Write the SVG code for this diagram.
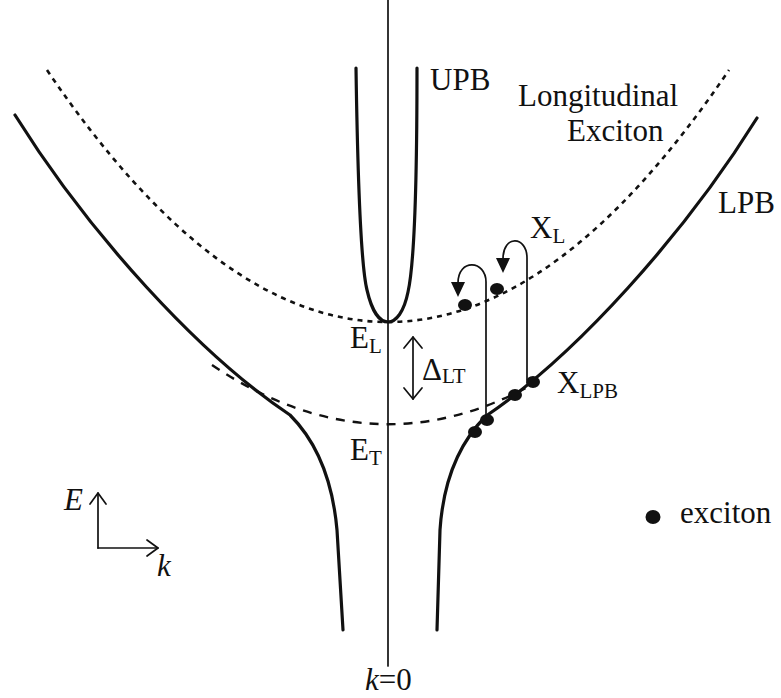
<svg xmlns="http://www.w3.org/2000/svg" width="781" height="698" viewBox="0 0 781 698">
<style>
text{font-family:"Liberation Serif","Times New Roman",serif;fill:#111;font-size:31px}
.sub{font-size:21px}
.it{font-style:italic}
.solid{fill:none;stroke:#111;stroke-width:3.2;stroke-linecap:round;stroke-linejoin:round}
.dash{fill:none;stroke:#111;stroke-width:2.6;stroke-dasharray:5 5}
.dash2{fill:none;stroke:#111;stroke-width:2.4;stroke-dasharray:9 8}
.thin{fill:none;stroke:#111;stroke-width:1.7;stroke-linecap:round;stroke-linejoin:round}
.dot{fill:#111}
.head{fill:#111;stroke:none}
</style>
<rect width="781" height="698" fill="#fff"/>

<g id="axis">
  <line class="thin" x1="388" y1="0" x2="388" y2="666" stroke-width="1.5"/>
</g>

<g id="longitudinal-exciton">
  <path class="dash" d="M47,70 Q388,574 729,70"/>
</g>

<g id="transverse-exciton">
  <path class="dash2" d="M212,365 Q373.5,473.6 535,383"/>
</g>

<g id="upb">
  <path class="solid" stroke-width="3.6" d="M356,68 C358,200 362,270 367,290 C372,312 380,322 388,322 C396,322 404,312 408,292 C413,270 417,200 417,68"/>
</g>

<g id="lpb">
  <path class="solid" d="M15,115 C90,235 200,355 290,415 C320,445 333,485 337,530 L343,630"/>
  <path class="solid" d="M757,118 C684,235 576,355 486,416 C456,446 443,485 440,530 L437,630"/>
</g>

<g id="excitons">
  <ellipse class="dot" cx="465" cy="305" rx="7" ry="6"/>
  <ellipse class="dot" cx="497" cy="289" rx="7" ry="6"/>
  <ellipse class="dot" cx="533" cy="382" rx="7" ry="6"/>
  <ellipse class="dot" cx="515" cy="395" rx="7" ry="6"/>
  <ellipse class="dot" cx="487" cy="420" rx="7" ry="6"/>
  <ellipse class="dot" cx="475" cy="432" rx="7" ry="6"/>
</g>

<g id="connectors">
  <path class="thin" d="M486,420 V282 C486,260 458,258 458,283"/>
  <polygon class="head" points="451,282 465,282 458,297"/>
  <path class="thin" d="M527,380 V258 C527,236 503,234 503,259"/>
  <polygon class="head" points="496,258 510,258 503,273"/>
  <line class="thin" x1="413" y1="337" x2="413" y2="399"/>
  <polyline class="thin" points="404,348 413,337 422,348"/>
  <polyline class="thin" points="404,388 413,399 422,388"/>
  <line class="thin" x1="98" y1="548" x2="98" y2="493"/>
  <polyline class="thin" points="90,504 98,493 106,504"/>
  <line class="thin" x1="98" y1="548" x2="158" y2="548"/>
  <polyline class="thin" points="147,540 158,548 147,556"/>
</g>

<g id="labels">
  <text x="430" y="90">UPB</text>
  <text x="518" y="106">Longitudinal</text>
  <text x="567" y="141">Exciton</text>
  <text x="718" y="213">LPB</text>
  <text x="530" y="238">X<tspan class="sub" dy="5">L</tspan></text>
  <text x="557" y="393">X<tspan class="sub" dy="5">LPB</tspan></text>
  <text x="350" y="348">E<tspan class="sub" dy="5">L</tspan></text>
  <text x="350" y="460">E<tspan class="sub" dy="5">T</tspan></text>
  <text x="422" y="380">Δ<tspan class="sub" dy="3">LT</tspan></text>
  <text class="it" x="64" y="510">E</text>
  <text class="it" x="157" y="576">k</text>
  <text x="365" y="690"><tspan class="it">k</tspan>=0</text>
</g>

<g id="legend">
  <ellipse class="dot" cx="653" cy="517" rx="7.5" ry="7"/>
  <text x="680" y="523">exciton</text>
</g>
</svg>
